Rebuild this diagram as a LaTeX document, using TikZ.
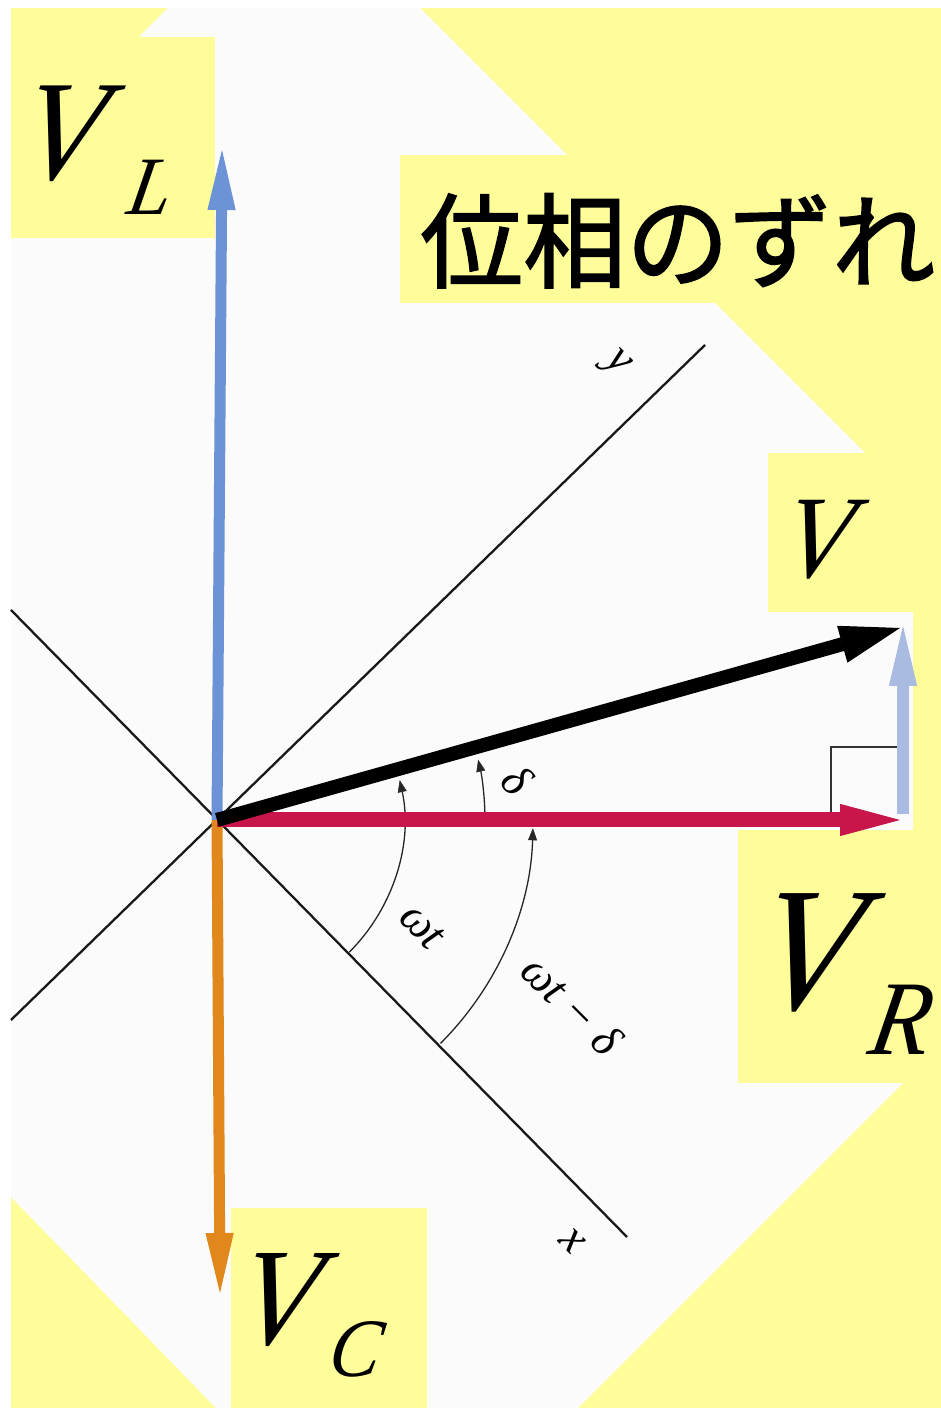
\documentclass[tikz,border=0pt]{standalone}
\usepackage{fontspec}
\setmainfont{Liberation Serif}
\newfontfamily\vfont{Liberation Serif Italic}[FakeSlant=0.18, FakeStretch=0.92]
\newfontfamily\anglefont{Liberation Serif Italic}
\newfontfamily\jpfont{Noto Sans CJK JP}[FakeBold=1.6]
\usetikzlibrary{positioning,calc,arrows.meta}
\definecolor{labelyellow}{HTML}{FFFD99}
\definecolor{paper}{HTML}{FBFBFB}
\definecolor{vlblue}{HTML}{6B93D6}
\definecolor{vcorange}{HTML}{E0881C}
\definecolor{vrred}{HTML}{C8164B}
\definecolor{vlight}{HTML}{AABBE2}
\newcommand{\volt}[5]{{\vfont\fontsize{#1}{#1}\selectfont V\kern#4\raisebox{-#3}{\fontsize{#2}{#2}\selectfont #5}}}

\begin{document}
\begin{tikzpicture}[x=1pt, y=1pt,
    every node/.style={inner sep=0pt},
    tag/.style={fill=labelyellow},
    phasor/.style={-{Triangle[length=60pt, width=#1, line width=1pt]}},
    angle/.style={line width=1.3pt, black!85, -{Triangle[length=12pt, width=9pt, line width=0.5pt]}},
    axis/.style={line width=2.3pt, black!90},
    rot/.style={font=\fontsize{46}{46}\selectfont\anglefont, rotate=-45}]
  \useasboundingbox (0,0) rectangle (941,1408);
  \fill[white] (0,0) rectangle (941,1408);
  \fill[labelyellow] (11,0) rectangle (941,1400);
  \fill[paper] (168,1400) -- (420,1400) -- (913,907) -- (913,335) -- (578,0)
    -- (216,0) -- (11,211) -- (11,1243) -- cycle;

  \fill[tag] (11,1170) rectangle (215,1371);
  \fill[tag] (400,1105) rectangle (941,1253);
  \fill[tag] (768,796) rectangle (941,955);
  \fill[tag] (738,325) rectangle (941,578);
  \fill[tag] (231,0) rectangle (427,200);

  \coordinate (O) at (217,588);
  \coordinate (xstart) at (11,798);
  \coordinate (xend) at (627,171);
  \coordinate (ystart) at (11,388);
  \coordinate (yend) at (705,1063);
  \draw[axis] (xstart) -- (xend);
  \draw[axis] (ystart) -- (yend);
  \node[rot] (ylabel) at (616,1043) {y};
  \node[rot] (xlabel) at (572,167) {x};

  \coordinate (wt) at ([shift={(-45:187)}]O);
  \coordinate (wtd) at ([shift={(-45:316)}]O);
  \coordinate (d) at ([shift={(1.6:268)}]O);
  \draw[angle] (wt) arc[start angle=-45, end angle=12.3, radius=187];
  \draw[angle] (wtd) arc[start angle=-45, end angle=-1.5, radius=316];
  \draw[angle] (d) arc[start angle=1.6, end angle=13, radius=268];
  \node[rot] (wtlabel) at (422,481) {ωt};
  \node[rot] (wtdlabel) at (572,403) {ωt − δ};
  \node[rot] (dlabel) at (517,628) {δ};

  \draw[black!80, line width=1.5pt] (831,592) -- (831,661) -- (900,661);

  \coordinate (vltip) at (222,1258);
  \coordinate (vctip) at (220,115);
  \coordinate (vrtip) at (900,588);
  \coordinate (vtip) at (900,780);
  \coordinate (xbase) at (903,594);
  \coordinate (xtip) at (903,782);
  \draw[phasor=28pt, vlblue, line width=11pt] (O) -- (vltip);
  \draw[phasor=28pt, vcorange, line width=11pt] (O) -- (vctip);
  \draw[phasor=28pt, vlight, line width=12pt] (xbase) -- (xtip);
  \draw[phasor=32pt, vrred, line width=15pt] (O) -- (vrtip);
  \draw[phasor=38pt, black, line width=14pt] (O) -- (vtip);

  \node[anchor=base west] (vlname) at (16,1228) {\volt{143}{83}{35pt}{29pt}{L}};
  \node[anchor=base west, font=\vfont\fontsize{118}{118}\selectfont] (vname) at (779,830) {V};
  \node[anchor=base west] (vrname) at (750,398) {\volt{177}{106}{45pt}{17pt}{R}};
  \node[anchor=base west] (vcname) at (233,63) {\volt{139}{83}{32pt}{15pt}{C}};
  \node[anchor=base west, font={\jpfont\fontsize{103}{103}\selectfont}] (phase) at (420,1128) {位相のずれ};
\end{tikzpicture}
\end{document}
